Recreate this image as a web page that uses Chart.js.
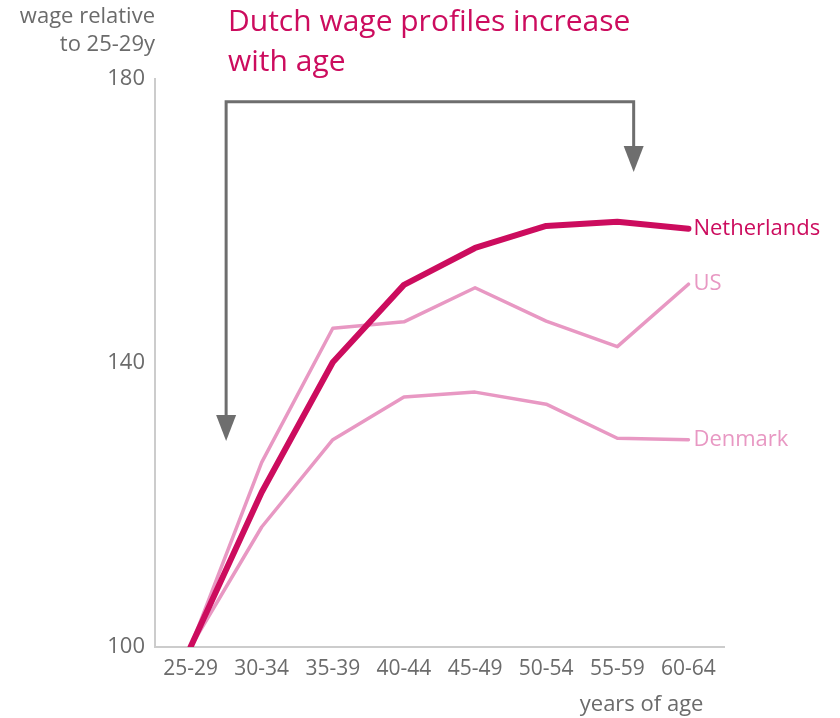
<!DOCTYPE html>
<html>
<head>
<meta charset="utf-8">
<script src="https://cdn.jsdelivr.net/npm/chart.js@4"></script>
<style>
  body { margin: 0; background: #fff; }
  #chart { display: block; }
</style>
</head>
<body>
<canvas id="chart" width="840" height="718"></canvas>
<script>
const ages = ['25-29', '30-34', '35-39', '40-44', '45-49', '50-54', '55-59', '60-64'];
const netherlands = [100, 121.8, 140.1, 151, 156.2, 159.3, 159.9, 158.9];
const us = [100, 126, 144.9, 145.8, 150.6, 145.9, 142.3, 151.1];
const denmark = [100, 116.9, 129.2, 135.2, 135.9, 134.2, 129.4, 129.2];
const yTicks = [100, 140, 180];

const titleLines = ['Dutch wage profiles increase', 'with age'];
const yTitle = ['wage relative', 'to 25-29y'];
const xTitle = 'years of age';

const dark = '#cc0c5e';
const light = '#e898c3';
const grey = '#6b6b6b';
const fontFamily = '"Open Sans", "DejaVu Sans", sans-serif';

const extras = {
    id: 'extras',
    beforeDatasetsDraw(chart) {
        const { ctx, scales: { x, y } } = chart;
        const x0 = x.getPixelForValue(0);
        const step = x.getPixelForValue(1) - x0;
        const leftX = x0 + 0.5 * step;
        const rightX = x0 + 6.23 * step;
        const topY = y.getPixelForValue(176.8);
        const leftTip = y.getPixelForValue(129);
        const rightTip = y.getPixelForValue(166.9);

        ctx.save();
        ctx.strokeStyle = '#6e6e6e';
        ctx.fillStyle = '#6e6e6e';
        ctx.lineWidth = 3;
        ctx.beginPath();
        ctx.moveTo(leftX, leftTip - 20);
        ctx.lineTo(leftX, topY);
        ctx.lineTo(rightX, topY);
        ctx.lineTo(rightX, rightTip - 20);
        ctx.stroke();
        [[leftX, leftTip], [rightX, rightTip]].forEach(([ax, ay]) => {
            ctx.beginPath();
            ctx.moveTo(ax, ay);
            ctx.lineTo(ax - 10, ay - 26);
            ctx.lineTo(ax + 10, ay - 26);
            ctx.closePath();
            ctx.fill();
        });
        ctx.restore();
    },
    afterDatasetsDraw(chart) {
        const { ctx, chartArea, scales: { x, y } } = chart;
        ctx.save();

        // series labels at the line ends
        ctx.textBaseline = 'middle';
        ctx.textAlign = 'left';
        chart.data.datasets.forEach(ds => {
            const last = ds.data.length - 1;
            ctx.fillStyle = ds.borderColor;
            ctx.font = `22px ${fontFamily}`;
            ctx.fillText(ds.label, x.getPixelForValue(last) + 5, y.getPixelForValue(ds.data[last]));
        });

        // y axis title
        ctx.fillStyle = grey;
        ctx.textAlign = 'right';
        ctx.font = `22px ${fontFamily}`;
        ctx.fillText(yTitle[0], chartArea.left, 17);
        ctx.fillText(yTitle[1], chartArea.left, 45);

        // x axis title, right edge near the last tick label
        const lastX = x.getPixelForValue(ages.length - 1);
        ctx.fillText(xTitle, lastX + 15, 705);

        // main title
        ctx.fillStyle = dark;
        ctx.textAlign = 'left';
        ctx.font = `30px ${fontFamily}`;
        ctx.fillText(titleLines[0], 228, 22);
        ctx.fillText(titleLines[1], 228, 62);
        ctx.restore();
    }
};

new Chart(document.getElementById('chart'), {
    type: 'line',
    data: {
        labels: ages,
        datasets: [
            { label: 'Netherlands', data: netherlands, borderColor: dark, borderWidth: 6 },
            { label: 'US', data: us, borderColor: light, borderWidth: 3.5 },
            { label: 'Denmark', data: denmark, borderColor: light, borderWidth: 3.5 }
        ]
    },
    options: {
        responsive: false,
        animation: false,
        events: [],
        elements: {
            point: { radius: 0 },
            line: { tension: 0, borderCapStyle: 'round', borderJoinStyle: 'round' }
        },
        layout: { padding: { top: 79, right: 116, left: 0, bottom: 0 } },
        plugins: {
            legend: { display: false },
            tooltip: { enabled: false }
        },
        scales: {
            x: {
                offset: true,
                grid: { display: false, drawTicks: false },
                border: { color: '#cccccc', width: 2 },
                ticks: { color: grey, padding: 9, maxRotation: 0, autoSkip: false, font: { family: fontFamily, size: 21 } },
                afterFit: s => { s.height = 71; }
            },
            y: {
                min: 100,
                max: 180,
                grid: { display: false, drawTicks: false },
                border: { color: '#cccccc', width: 2 },
                ticks: { color: grey, padding: 10, font: { family: fontFamily, size: 22 } },
                afterBuildTicks: s => { s.ticks = yTicks.map(v => ({ value: v })); },
                afterFit: s => { s.width = 155; }
            }
        }
    },
    plugins: [extras]
});
</script>
</body>
</html>
